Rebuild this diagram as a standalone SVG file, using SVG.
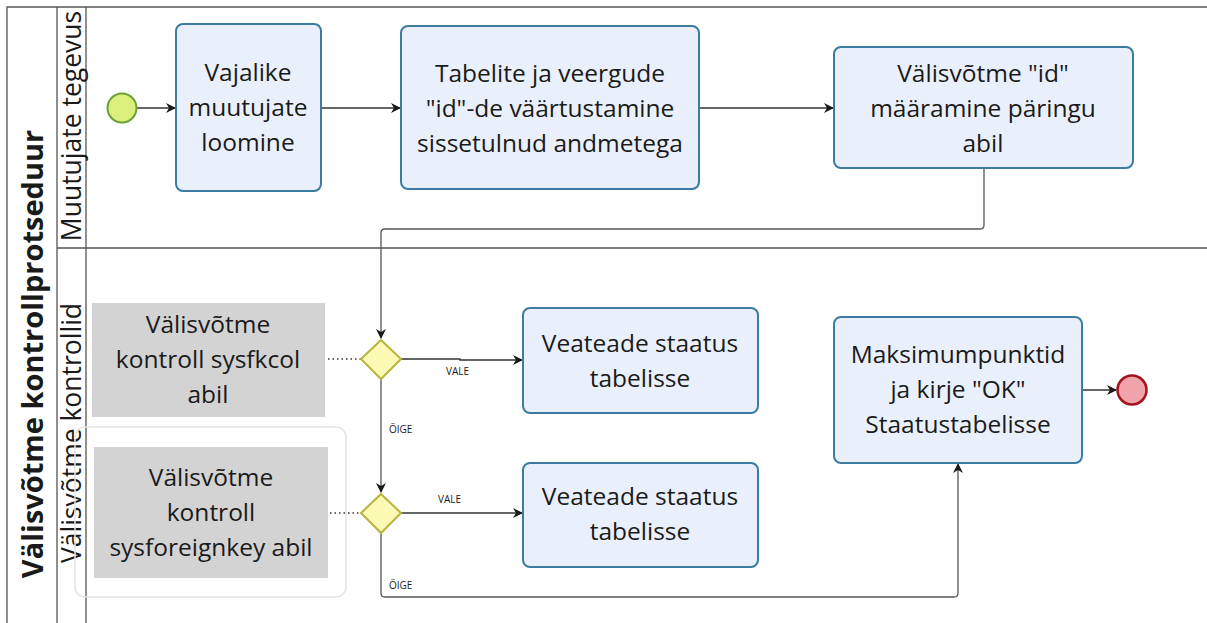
<svg xmlns="http://www.w3.org/2000/svg" width="1207" height="623" viewBox="0 0 1207 623">
<style>
text{font-family:"Open Sans","Noto Sans","DejaVu Sans",sans-serif;fill:#1a1a1a}
.t{font-size:24.5px;text-anchor:middle}
.lbl{font-size:10px}
.task{fill:#eaf0fb;stroke:#3b7ca0;stroke-width:2}
.ann{fill:#d3d3d3}
.gw{fill:#fafab4;stroke:#b8b440;stroke-width:2}
.ln{fill:none;stroke:#555;stroke-width:1.3}
.edge{fill:none;stroke:#333;stroke-width:1.3}
.dot{fill:none;stroke:#333;stroke-width:1.5;stroke-dasharray:1.5 3}
.lane{font-size:26.5px;text-anchor:middle}
</style>
<defs>
<marker id="ah" viewBox="0 0 10 10" refX="9" refY="5" markerWidth="10" markerHeight="10" markerUnits="userSpaceOnUse" orient="auto">
<path d="M0,0 L10,5 L0,10 L3,5 Z" fill="#1a1a1a"/>
</marker>
</defs>
<rect width="1207" height="623" fill="#fff"/>
<g id="pool">
<path class="ln" d="M1207,7 H7 V623"/>
<path class="ln" d="M57,7 V623 M86,7 V623 M57,248 H1207"/>
<text transform="translate(43,354) rotate(-90)" style="font-size:29px;font-weight:bold;text-anchor:middle">Välisvõtme kontrollprotseduur</text>
<text class="lane" transform="translate(81,126) rotate(-90)">Muutujate tegevus</text>
<text class="lane" transform="translate(81,433) rotate(-90)">Välisvõtme kontrollid</text>
</g>
<g id="group-box"><rect x="75" y="427" width="271" height="170" rx="10" fill="none" stroke="#e4e4e4" stroke-width="1.5"/></g>
<g id="connectors">
<path class="edge" d="M137,108 H175" marker-end="url(#ah)"/>
<path class="edge" d="M321,108 H400" marker-end="url(#ah)"/>
<path class="edge" d="M699,108 H833" marker-end="url(#ah)"/>
<path class="ln" d="M984,168 V225 Q984,229 980,229 H385 Q381,229 381,233 V338" marker-end="url(#ah)"/>
<path class="edge" d="M401,359 H460 V360 H522" marker-end="url(#ah)"/>
<path class="ln" d="M381,379 V492" marker-end="url(#ah)"/>
<path class="edge" d="M401,513 H522" marker-end="url(#ah)"/>
<path class="ln" d="M381,533 V593 Q381,597 385,597 H954 Q958,597 958,593 V464" marker-end="url(#ah)"/>
<path class="edge" d="M1082,390 H1116" marker-end="url(#ah)"/>
<path class="dot" d="M328,359 H361"/>
<path class="dot" d="M330,513 H361"/>
<text class="lbl" x="446" y="375">VALE</text>
<text class="lbl" x="438" y="503">VALE</text>
<text class="lbl" x="389" y="433">ÕIGE</text>
<text class="lbl" x="389" y="589">ÕIGE</text>
</g>
<g id="start"><circle cx="122" cy="108" r="14.5" fill="#dbf07c" stroke="#6e9f3a" stroke-width="2"/></g>
<g id="task1"><rect class="task" x="176" y="24" width="145" height="167" rx="7"/>
<text class="t" x="248" y="81">Vajalike</text><text class="t" x="248" y="116">muutujate</text><text class="t" x="248" y="151">loomine</text></g>
<g id="task2"><rect class="task" x="401" y="26" width="298" height="163" rx="7"/>
<text class="t" x="550" y="82">Tabelite ja veergude</text><text class="t" x="550" y="117">"id"-de väärtustamine</text><text class="t" x="550" y="152">sissetulnud andmetega</text></g>
<g id="task3"><rect class="task" x="834" y="47" width="299" height="121" rx="7"/>
<text class="t" x="983" y="82">Välisvõtme "id"</text><text class="t" x="983" y="117">määramine päringu</text><text class="t" x="983" y="152">abil</text></g>
<g id="ann1"><rect class="ann" x="92" y="303" width="233" height="114"/>
<text class="t" x="208" y="333">Välisvõtme</text><text class="t" x="208" y="368">kontroll sysfkcol</text><text class="t" x="208" y="403">abil</text></g>
<g id="ann2"><rect class="ann" x="94" y="447" width="234" height="131"/>
<text class="t" x="211" y="486">Välisvõtme</text><text class="t" x="211" y="521">kontroll</text><text class="t" x="211" y="556">sysforeignkey abil</text></g>
<g id="gw1"><path class="gw" d="M381,340 L401,359 L381,379 L361,359 Z"/></g>
<g id="gw2"><path class="gw" d="M381,494 L401,513 L381,533 L361,513 Z"/></g>
<g id="err1"><rect class="task" x="523" y="308" width="235" height="105" rx="7"/>
<text class="t" x="640" y="352">Veateade staatus</text><text class="t" x="640" y="387">tabelisse</text></g>
<g id="err2"><rect class="task" x="523" y="463" width="235" height="104" rx="7"/>
<text class="t" x="640" y="505">Veateade staatus</text><text class="t" x="640" y="540">tabelisse</text></g>
<g id="task-ok"><rect class="task" x="834" y="317" width="248" height="146" rx="7"/>
<text class="t" x="958" y="363">Maksimumpunktid</text><text class="t" x="958" y="398">ja kirje "OK"</text><text class="t" x="958" y="433">Staatustabelisse</text></g>
<g id="end"><circle cx="1132" cy="390" r="14.5" fill="#f0a3aa" stroke="#a3121e" stroke-width="2.5"/></g>
</svg>
